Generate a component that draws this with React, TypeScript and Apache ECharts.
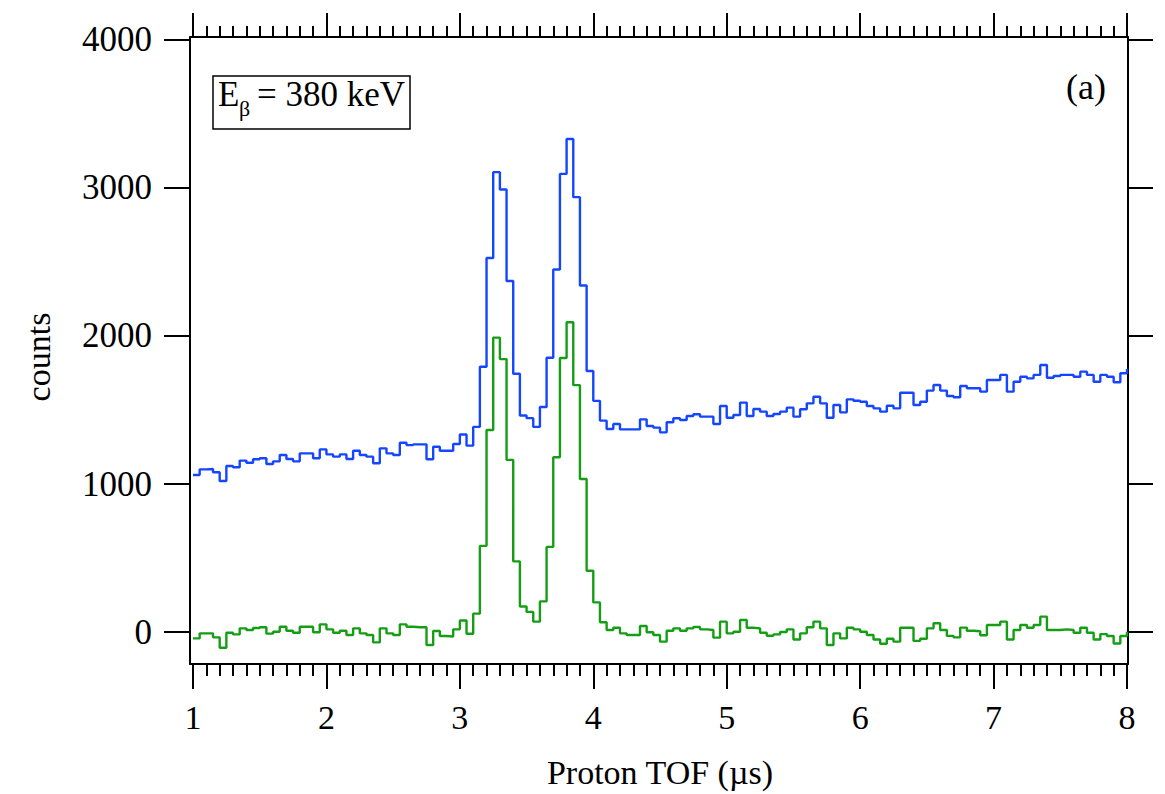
import React, { useEffect, useRef } from "react";
import * as echarts from "echarts";

// Histogram bins: start at 1.0 µs, width 0.05 µs (values are counts per bin)
const BIN_START = 1.0;
const BIN_WIDTH = 0.05;

const totalCounts = [
  1061, 1099, 1101, 1079, 1020, 1122, 1113, 1158, 1144, 1167,
  1174, 1135, 1153, 1196, 1169, 1153, 1207, 1207, 1174, 1234,
  1200, 1185, 1200, 1169, 1225, 1196, 1185, 1140, 1241, 1207,
  1196, 1279, 1263, 1268, 1268, 1167, 1252, 1225, 1225, 1270,
  1334, 1259, 1386, 1792, 2527, 3107, 2990, 2372, 1745, 1463,
  1445, 1386, 1520, 1853, 2449, 3095, 3331, 2938, 2341, 1764,
  1562, 1428, 1372, 1405, 1369, 1369, 1369, 1437, 1392, 1381,
  1349, 1417, 1444, 1432, 1459, 1471, 1455, 1455, 1405, 1527,
  1448, 1466, 1550, 1459, 1507, 1489, 1459, 1473, 1489, 1516,
  1455, 1505, 1545, 1590, 1545, 1448, 1534, 1484, 1572, 1563,
  1556, 1527, 1511, 1489, 1529, 1511, 1617, 1617, 1534, 1556,
  1631, 1669, 1631, 1595, 1586, 1662, 1647, 1647, 1624, 1703,
  1703, 1737, 1624, 1691, 1725, 1714, 1737, 1804, 1718, 1730,
  1737, 1737, 1725, 1759, 1737, 1691, 1737, 1725, 1687, 1748,
  1777,
];

const subtractedCounts = [
  -43, -9, -9, -36, -106, -5, -16, 25, 14, 27,
  32, -11, 2, 36, 9, -5, 36, 36, -2, 52,
  18, -5, 9, -20, 25, -9, -20, -70, 25, -9,
  -20, 52, 36, 32, 32, -88, 7, -27, -30, 18,
  78, -12, 124, 582, 1365, 1989, 1844, 1163, 477, 172,
  136, 70, 207, 575, 1181, 1851, 2093, 1668, 1034, 414,
  200, 66, 14, 29, -9, -20, -20, 41, -2, -20,
  -65, 9, 25, 9, 25, 34, 18, 14, -38, 70,
  -9, 2, 81, 29, 25, -5, -25, -16, 0, 18,
  -50, -9, 32, 70, 25, -88, -9, -43, 29, 18,
  2, -20, -50, -79, -45, -65, 29, 29, -60, -45,
  25, 59, 14, -26, -36, 30, 9, 5, -22, 47,
  47, 70, -50, 14, 47, 29, 47, 104, 14, 14,
  18, 14, -5, 29, -5, -50, -14, -27, -77, -27,
  2,
];

const xMajorTicks = [1, 2, 3, 4, 5, 6, 7, 8];
const yMajorTicks = [0, 1000, 2000, 3000, 4000];

const XMIN = 0.9775;
const XMAX = 8.0075;
const YMIN = -216;
const YMAX = 4020;

const FONT = "'Liberation Serif', 'Times New Roman', serif";

function toPoints(values: number[]): [number, number][] {
  return values.map((v, i) => [+(BIN_START + i * BIN_WIDTH).toFixed(4), v]);
}

function minorTicks(): number[] {
  const out: number[] = [];
  for (let i = 0; i <= 70; i++) out.push(+(1 + i * 0.1).toFixed(2));
  return out;
}

export default function App() {
  const ref = useRef<HTMLDivElement>(null);

  useEffect(() => {
    if (!ref.current) return;
    const chart = echarts.init(ref.current, undefined, { renderer: "svg" });
    const minors = minorTicks();
    const axisLine = { show: true, onZero: false, lineStyle: { color: "#000", width: 2 } };
    const noLine = { show: false, onZero: false };
    const tickStyle = { color: "#000", width: 2 };

    const baseX = {
      type: "value" as const,
      min: XMIN,
      max: XMAX,
      splitLine: { show: false },
    };
    const baseY = {
      type: "value" as const,
      min: YMIN,
      max: YMAX,
      splitLine: { show: false },
    };

    chart.setOption({
      animation: false,
      backgroundColor: "#fff",
      grid: { left: 190, top: 37, width: 938, height: 627, containLabel: false },
      xAxis: [
        {
          ...baseX,
          position: "bottom",
          axisLine,
          axisTick: { show: true, inside: false, length: 25, customValues: xMajorTicks, lineStyle: tickStyle },
          axisLabel: {
            show: true,
            customValues: xMajorTicks,
            formatter: (v: number) => String(v),
            fontFamily: FONT,
            fontSize: 34,
            color: "#000",
            margin: 36,
          },
        },
        {
          ...baseX,
          position: "bottom",
          axisLine: noLine,
          axisTick: { show: true, inside: false, length: 12, customValues: minors, lineStyle: tickStyle },
          axisLabel: { show: false },
        },
        {
          ...baseX,
          position: "top",
          axisLine,
          axisTick: { show: true, inside: false, length: 24, customValues: xMajorTicks, lineStyle: tickStyle },
          axisLabel: { show: false },
        },
        {
          ...baseX,
          position: "top",
          axisLine: noLine,
          axisTick: { show: true, inside: false, length: 11, customValues: minors, lineStyle: tickStyle },
          axisLabel: { show: false },
        },
      ],
      yAxis: [
        {
          ...baseY,
          position: "left",
          axisLine,
          axisTick: { show: true, inside: false, length: 26, customValues: yMajorTicks, lineStyle: tickStyle },
          axisLabel: {
            show: true,
            customValues: yMajorTicks,
            formatter: (v: number) => String(v),
            fontFamily: FONT,
            fontSize: 35,
            color: "#000",
            margin: 38,
          },
        },
        {
          ...baseY,
          position: "right",
          axisLine,
          axisTick: { show: true, inside: false, length: 25, customValues: yMajorTicks, lineStyle: tickStyle },
          axisLabel: { show: false },
        },
      ],
      series: [
        {
          name: "total",
          type: "line",
          step: "end",
          xAxisIndex: 0,
          yAxisIndex: 0,
          showSymbol: false,
          symbol: "none",
          clip: true,
          lineStyle: { color: "#1446ff", width: 2.4 },
          data: toPoints(totalCounts),
        },
        {
          name: "subtracted",
          type: "line",
          step: "end",
          xAxisIndex: 0,
          yAxisIndex: 0,
          showSymbol: false,
          symbol: "none",
          clip: true,
          lineStyle: { color: "#159e15", width: 2.4 },
          data: toPoints(subtractedCounts),
        },
      ],
      graphic: [
        {
          type: "rect",
          shape: { x: 213, y: 76, width: 197, height: 53 },
          style: { fill: "#fff", stroke: "#000", lineWidth: 1.5 },
          z: 10,
        },
        {
          type: "text",
          x: 218,
          y: 112,
          style: { text: "E", font: `35px ${FONT}`, fill: "#000", textAlign: "left", textVerticalAlign: "bottom" },
          z: 11,
        },
        {
          type: "text",
          x: 239,
          y: 119,
          style: { text: "β", font: `22px ${FONT}`, fill: "#000", textAlign: "left", textVerticalAlign: "bottom" },
          z: 11,
        },
        {
          type: "text",
          x: 257,
          y: 112,
          style: { text: "= 380 keV", font: `35px ${FONT}`, fill: "#000", textAlign: "left", textVerticalAlign: "bottom" },
          z: 11,
        },
        {
          type: "text",
          x: 1106,
          y: 87,
          style: { text: "(a)", font: `36px ${FONT}`, fill: "#000", textAlign: "right", textVerticalAlign: "middle" },
          z: 11,
        },
        {
          type: "text",
          x: 38,
          y: 357,
          rotation: Math.PI / 2,
          style: { text: "counts", font: `34px ${FONT}`, fill: "#000", textAlign: "center", textVerticalAlign: "middle" },
        },
        {
          type: "text",
          x: 660,
          y: 772,
          style: { text: "Proton TOF (µs)", font: `34px ${FONT}`, fill: "#000", textAlign: "center", textVerticalAlign: "middle" },
        },
      ],
    });

    return () => chart.dispose();
  }, []);

  return <div ref={ref} style={{ position: "fixed", left: 0, top: 0, width: 1165, height: 794 }} />;
}
